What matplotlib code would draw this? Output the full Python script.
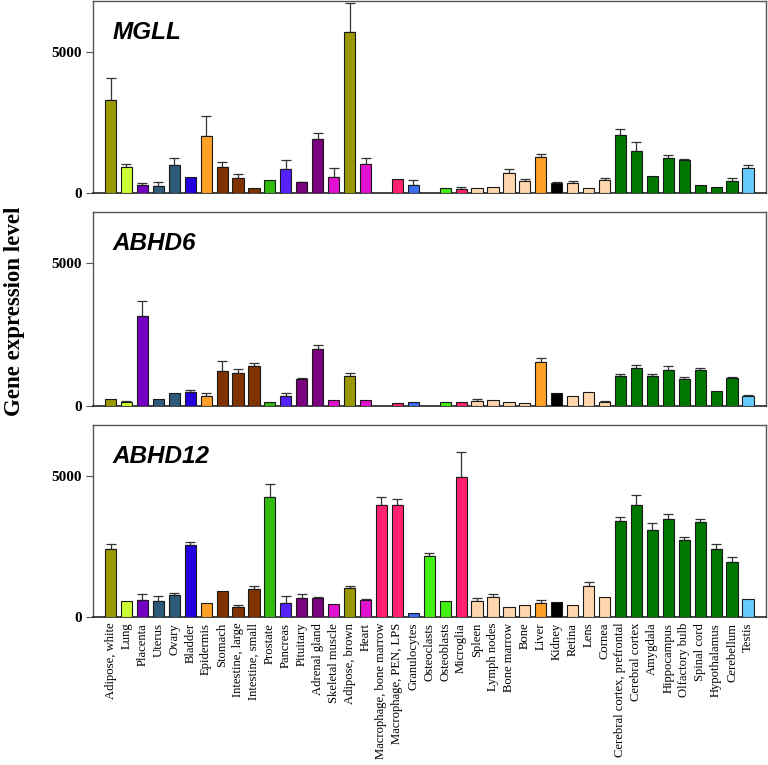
"""Tissue expression of MGLL, ABHD6 and ABHD12 (three stacked bar panels)."""
import numpy as np
import matplotlib
matplotlib.use("Agg")
import matplotlib.pyplot as plt

tissues = [
    "Adipose, white", "Lung", "Placenta", "Uterus", "Ovary", "Bladder", "Epidermis",
    "Stomach", "Intestine, large", "Intestine, small", "Prostate", "Pancreas",
    "Pituitary", "Adrenal gland", "Skeletal muscle", "Adipose, brown", "Heart",
    "Macrophage, bone marrow", "Macrophage, PEN, LPS", "Granulocytes", "Osteoclasts",
    "Osteoblasts", "Microglia", "Spleen", "Lymph nodes", "Bone marrow", "Bone",
    "Liver", "Kidney", "Retina", "Lens", "Cornea", "Cerebral cortex, prefrontal",
    "Cerebral cortex", "Amygdala", "Hippocampus", "Olfactory bulb", "Spinal cord",
    "Hypothalamus", "Cerebellum", "Testis",
]

OLIVE, LIME, VIOLET, TEAL, BLUE = "#9a9a00", "#ccff33", "#7400c4", "#2c5a78", "#2400e0"
ORANGE, BROWN, GREEN, INDIGO, PURPLE = "#ffa126", "#7f3300", "#33bb11", "#5522ff", "#7a0080"
MAGENTA, PINK, SKY, BRIGHT, PEACH = "#e011d0", "#ff2070", "#3c6cf0", "#44f014", "#ffd6ae"
BLACK, DKGREEN, CYAN = "#000000", "#007800", "#66ccff"

tissue_colors = [
    OLIVE, LIME, VIOLET, TEAL, TEAL, BLUE, ORANGE, BROWN, BROWN, BROWN, GREEN, INDIGO,
    PURPLE, PURPLE, MAGENTA, OLIVE, MAGENTA, PINK, PINK, SKY, BRIGHT, BRIGHT, PINK,
    PEACH, PEACH, PEACH, PEACH, ORANGE, BLACK, PEACH, PEACH, PEACH,
    DKGREEN, DKGREEN, DKGREEN, DKGREEN, DKGREEN, DKGREEN, DKGREEN, DKGREEN, CYAN,
]

nan = np.nan
# mean expression and upper error bar end (nan = not measured / no error bar)
mgll_mean = [3290, 920, 295, 270, 1010, 565, 2040, 940, 530, 175, 480, 860, 400, 1925,
             575, 5720, 1035, nan, 495, 295, nan, 175, 140, 175, 235, 730, 425, 1280,
             375, 365, 200, 470, 2065, 1490, 600, 1235, 1195, 280, 210, 435, 880]
mgll_top = [4085, 1035, 350, 385, 1235, nan, 2745, 1090, 670, nan, nan, 1175, 410, 2135,
            890, 6725, 1255, nan, nan, 460, nan, nan, 235, nan, nan, 870, 495, 1395,
            400, 445, nan, 540, 2290, 1830, nan, 1340, 1220, nan, nan, 550, 1000]

abhd6_mean = [245, 140, 3145, 235, 435, 495, 330, 1210, 1150, 1395, 130, 340, 940, 1995,
              190, 1045, 190, nan, 95, 115, nan, 115, 140, 175, 190, 130, 95, 1515,
              435, 330, 470, 130, 1055, 1315, 1035, 1235, 940, 1235, 505, 975, 340]
abhd6_top = [nan, 165, 3665, nan, nan, 540, 435, 1575, 1290, 1490, nan, 445, 975, 2135,
             nan, 1150, nan, nan, nan, nan, nan, nan, nan, 225, nan, nan, nan, 1665,
             nan, nan, nan, 165, 1115, 1430, 1115, 1375, 1000, 1315, nan, 1020, 365]

abhd12_mean = [2420, 575, 610, 565, 775, 2560, 515, 925, 365, 1010, 4260, 515, 680, 670,
               470, 1035, 620, 3955, 3955, 155, 2185, 575, 4945, 575, 715, 350, 425, 505,
               540, 425, 1115, 705, 3415, 3955, 3075, 3465, 2725, 3360, 2420, 1970, 635]
abhd12_top = [2605, nan, 810, 740, 845, 2675, nan, nan, 425, 1090, 4730, 750, 810, 705,
              nan, 1105, 655, 4240, 4180, nan, 2290, nan, 5835, 670, 820, nan, nan, 600,
              nan, nan, 1255, nan, 3545, 4320, 3345, 3650, 2840, 3475, 2585, 2115, nan]

genes = ["MGLL", "ABHD6", "ABHD12"]
means = [mgll_mean, abhd6_mean, abhd12_mean]
tops = [mgll_top, abhd6_top, abhd12_top]

W, H = 768, 765
fig = plt.figure(figsize=(W / 100, H / 100), dpi=100)
# panel pixel extents (top, bottom)
panel_px = [(1, 193.3), (212, 405.6), (425, 617.3)]
x = np.arange(len(tissues))

axes = []
for (top, bot), gene, mean, up in zip(panel_px, genes, means, tops):
    ax = fig.add_axes([93 / W, 1 - bot / H, (766 - 93) / W, (bot - top) / H])
    mean = np.array(mean, dtype=float)
    up = np.array(up, dtype=float)
    ok = ~np.isnan(mean)
    ax.bar(x[ok], mean[ok], width=0.7, color=np.array(tissue_colors)[ok],
           edgecolor="#1a1a1a", linewidth=0.8, zorder=3)
    has = ~np.isnan(up)
    ax.errorbar(x[has], up[has], yerr=[up[has] - mean[has], np.zeros(has.sum())],
                fmt="none", ecolor="#333333", elinewidth=0.9, capsize=3.5,
                capthick=0.9, zorder=2)
    ax.set_xlim(-1.1, 41.13)
    ax.set_ylim(0, 6800)
    ax.set_yticks([0, 5000])
    ax.set_yticklabels(["0", "5000"], fontfamily="Liberation Serif",
                       fontweight="bold", fontsize=11)
    ax.tick_params(axis="y", direction="out", length=5, width=0.8, color="#555555", pad=3)
    for side in ["left", "top", "right"]:
        ax.spines[side].set_color("#555555")
        ax.spines[side].set_linewidth(1.0)
    ax.spines["bottom"].set_color("#222222")
    ax.spines["bottom"].set_linewidth(1.2)
    ax.text(0.029, 0.835, gene, transform=ax.transAxes, fontfamily="Liberation Sans",
            fontweight="bold", fontstyle="italic", fontsize=17.5, va="center", ha="left")
    axes.append(ax)

for ax in axes[:2]:
    ax.set_xticks([])
axes[2].set_xticks(x)
axes[2].set_xticklabels(tissues, rotation=90, fontfamily="Liberation Serif", fontsize=9.1)
axes[2].tick_params(axis="x", length=0, pad=4)

fig.text(15 / W, 1 - 311 / H, "Gene expression level", rotation=90, ha="center",
         va="center", fontfamily="Liberation Serif", fontweight="bold", fontsize=16.5)

fig.savefig("out.png", dpi=100)
